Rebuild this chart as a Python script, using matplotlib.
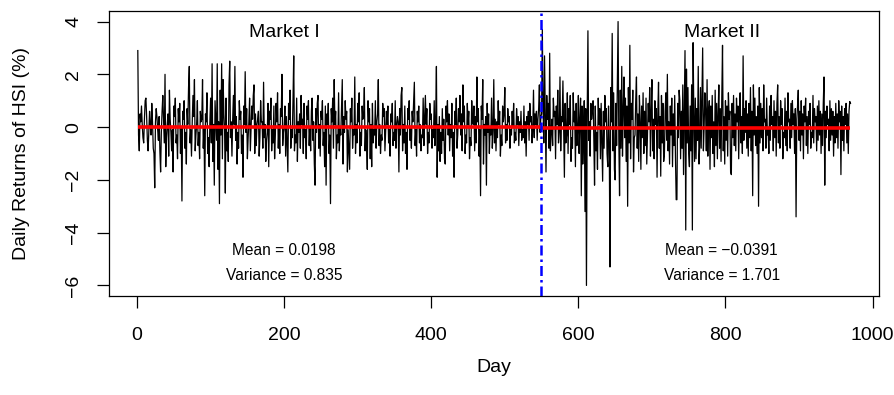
import matplotlib
matplotlib.use("Agg")
import matplotlib.pyplot as plt
import numpy as np

plt.rcParams['font.family'] = ['Liberation Sans', 'DejaVu Sans']

# daily returns of HSI (%), estimated from the chart
# Market I: days 1-549
market1_returns = [
    2.9, -0.3, -0.9, 0.5, 0.2, 0.8, 0.1, -0.4, -0.6, 0.3, 1.0, 1.1, 0.4, -0.5, -0.9, -0.2, 0.6, 0.1, -0.3, 0.9,
    0.2, -0.8, -1.0, -2.3, 0.2, 0.7, 0.4, -0.1, -0.5, 0.4, -0.9, -1.7, -0.2, 0.6, 1.2, 0.3, -0.6, 2.0, -1.5, -0.4,
    0.1, 0.5, -1.1, 1.4, 0.3, -0.2, -0.9, -0.1, -1.7, 0.8, 0.4, 1.1, -0.6, -0.3, -1.2, 0.7, 0.2, 0.9, -1.0, 0.0,
    -2.8, 0.6, 0.3, 1.0, -0.8, -0.2, -1.4, 0.7, 0.1, 1.5, 2.3, -0.6, -0.1, -1.1, 0.2, 1.2, 0.4, 1.8, -0.9, -0.3,
    0.1, 1.0, -0.7, -0.2, -1.2, 0.6, 0.2, 0.3, 1.8, -0.8, 0.0, -2.6, 0.5, 0.2, 1.3, -1.0, -0.4, -1.5, 0.2, 1.1,
    -0.6, 2.4, -1.3, 0.1, -2.2, 1.0, 0.3, -0.5, 2.4, -1.6, 0.2, -2.9, 1.4, -0.3, 2.4, -1.2, 1.8, 0.5, -0.1, -2.5,
    1.1, -0.9, -0.2, -1.3, 1.6, 2.5, -0.4, 0.2, -1.1, 0.3, 1.2, 0.1, 2.3, -0.5, 0.4, -1.4, -0.2, -0.8, 1.0, 0.3,
    0.6, -1.0, -0.3, -1.9, 0.8, 0.1, 2.1, -0.2, 0.7, -1.2, -0.4, 0.2, 1.1, -0.9, -0.1, 0.8, 0.3, 1.2, 1.6, -1.0,
    0.5, -0.7, 0.1, 0.3, 0.6, -1.1, -0.4, 1.0, 0.2, 0.2, -0.8, 1.7, -0.4, 0.1, -1.3, -0.5, -0.2, 0.9, -1.5, 0.6,
    0.3, 1.1, -0.9, -0.1, -0.6, 0.8, -1.2, -0.3, 0.9, 0.2, 1.3, -0.8, 0.1, -1.0, 0.7, 0.4, 2.0, -0.7, -0.2, 0.0,
    0.8, -1.1, 0.4, -0.6, -1.7, 0.9, 0.3, 1.4, -0.8, -0.1, -0.4, 1.0, 2.7, -0.9, -0.3, -0.6, 1.1, -1.3, 0.2, -0.2,
    0.5, -0.8, 1.2, 0.1, 0.3, -1.0, 0.9, -0.4, -0.1, -1.2, 0.8, 0.3, 1.0, -0.7, 0.0, -0.9, 0.6, 1.1, -0.5, 0.2,
    -1.4, -2.2, 0.7, -0.2, 0.9, 1.2, -0.8, 0.1, -1.1, 0.6, 0.3, 1.0, -0.7, -0.2, -1.5, 0.8, -2.2, 0.5, 0.1, 0.9,
    -1.0, -0.3, -2.9, 0.7, 0.2, 1.1, -0.8, 1.8, 0.1, 0.6, -1.2, -0.3, -0.6, 1.3, -0.9, 0.0, -0.3, 0.8, 1.8, -1.4,
    0.4, -0.2, 1.0, 0.3, 0.6, -1.7, -0.1, -0.9, -1.6, 0.7, 0.2, 1.1, -0.8, -0.1, -0.3, 1.9, -1.0, 0.1, -0.6, 0.9,
    0.2, 1.3, -1.1, -0.2, -0.7, 0.8, 0.3, 0.4, 1.5, -0.9, -0.1, -0.5, -1.6, 1.0, 0.2, 0.7, -1.2, 0.1, -1.5, 0.9,
    -0.6, -0.1, -0.3, 1.0, -0.8, 0.2, 0.5, 1.8, -0.7, 0.1, -1.0, -0.3, -0.5, 0.9, 0.4, 0.7, -0.9, -0.2, 0.6, 0.1,
    0.8, -0.6, -0.1, -1.1, 0.5, 0.2, 0.9, -0.7, -0.2, -0.5, 1.0, -0.8, 0.1, 0.4, 0.2, -1.7, 0.7, -0.3, 1.2, 1.5,
    -0.9, 0.1, -0.6, 0.8, -1.0, -0.2, -1.6, 0.7, 0.3, 1.0, -0.5, 0.0, -0.8, 0.6, 0.2, 0.9, 1.7, -0.7, -0.1, -1.1,
    0.6, 0.2, 0.8, -0.6, 0.1, -0.9, -0.3, -0.4, 1.1, -0.7, 0.4, 1.2, 0.1, 0.7, -1.0, -0.2, -0.6, 0.9, 0.3, 0.5,
    -0.8, -0.1, -0.4, 1.0, -0.7, 0.3, 2.3, -1.9, 0.1, -0.9, 0.4, -1.3, -0.2, -1.0, 0.7, -0.5, 0.3, -1.2, -1.4, 0.8,
    0.2, 1.0, -0.3, 0.5, -0.9, 0.1, -0.4, 0.9, -1.1, -0.2, -1.9, 0.6, 0.1, 1.1, -0.8, -0.3, 0.7, 0.2, 1.2, -0.3,
    0.5, -0.9, 1.6, 0.2, 0.8, -1.0, -0.3, -0.6, 0.9, 0.1, 0.6, -1.2, -0.4, -0.7, 1.0, 0.3, 0.1, 0.8, -0.9, 0.4,
    -0.6, 1.9, 0.2, 0.7, -1.1, -0.1, -2.6, 0.8, 0.3, 1.8, -1.4, 0.1, -0.3, 0.4, -2.2, 0.9, -0.2, 0.5, -1.0, 0.0,
    -0.3, 1.1, -0.8, -0.1, 1.8, -0.6, 0.3, -0.9, 0.2, -0.4, 1.0, 0.1, 0.6, -1.1, -0.3, -0.7, 0.8, 0.2, 0.5, 1.5,
    -0.6, 0.1, -0.5, 0.7, 0.2, 0.4, -0.8, -0.1, -0.3, 0.6, 0.0, 0.9, -0.6, -0.2, -0.5, 0.7, 0.1, 0.4, -0.7, 0.2,
    -0.2, 0.6, -0.5, -0.1, -0.4, 0.8, -0.6, 0.2, -1.1, 0.4, 0.1, 0.6, -0.5, 0.9, 0.2, 0.4, -0.6, -0.1, 1.4, -0.4,
    0.5, 0.1, 0.6, -0.5, 0.3, 0.7, 1.6, -0.2, 0.4,
]

# Market II: days 550-970
market2_returns = [
    0.5, 3.7, 0.8, -0.6, 2.7, 0.4, -1.7, 1.2, 0.3, 0.9, -0.8, 2.8, -0.9, -0.2, 0.3, -0.7, 1.1, 0.4, 0.6, -1.2,
    0.8, 0.1, 1.4, -0.6, -0.2, 1.9, -0.9, 0.4, 0.2, 1.75, -0.2, -1.9, 0.9, -0.6, -0.3, 1.3, -1.0, 0.7, 0.1, 1.2,
    -1.3, -0.4, -0.8, 1.3, 0.2, 0.6, -1.5, 0.9, -0.7, -0.1, 1.2, -1.0, 0.3, 1.1, -2.6, 0.8, -1.4, -0.3, 1.0, -3.2,
    0.7, -6.0, 0.4, 3.65, -0.5, 0.2, -1.1, 0.9, 0.3, 0.6, 1.0, -0.4, -2.2, 0.8, -0.9, -0.2, -1.6, 1.1, 0.1, 0.7,
    -1.2, 0.9, -0.5, -2.05, 0.6, -0.8, 1.2, 0.2, 0.7, -1.0, -1.5, 0.8, -0.6, -5.3, 1.5, 0.2, 3.55, -0.9, 1.3, -1.6,
    -2.0, 0.9, -0.7, 1.6, 4.0, -0.5, -2.6, 1.4, -0.8, 2.3, -1.1, 0.6, 1.9, -0.4, 1.1, -1.3, 0.8, -3.0, 1.5, -0.6,
    3.1, -1.2, 0.9, 0.3, 1.4, -1.7, -0.4, -0.3, 1.0, 1.9, -0.8, 0.5, -1.3, 1.2, 0.2, -1.6, 0.8, -0.4, 1.3, -1.0,
    0.6, -0.7, 1.1, -1.4, -0.3, 0.9, 0.2, 1.5, -1.1, 0.6, 1.8, -0.9, 0.3, -1.2, 1.0, 0.1, 0.7, -1.9, 0.5, 1.7,
    -0.8, 0.4, -1.86, 1.2, -0.6, 0.9, -1.3, -1.0, 0.6, 1.3, -0.5, 2.0, -0.9, 0.2, -1.4, 0.8, -0.3, 1.1, -1.5, 0.5,
    -0.7, 1.2, -1.1, -2.75, -2.75, 0.9, -0.4, 1.4, 1.0, -1.2, 0.6, -0.8, 1.6, -1.8, 0.7, 2.9, -3.9, 2.2, -0.6, 1.5,
    -1.0, -1.5, 0.8, -0.9, 1.6, -3.9, 3.2, 0.4, -1.3, 1.1, -1.2, 0.7, -0.5, 2.3, -1.4, -0.7, 1.5, -0.8, 1.2, 3.0,
    -0.9, 0.0, 1.3, 0.6, -0.9, 1.8, -1.1, 0.5, 1.0, -1.6, 0.8, -0.4, 1.2, -1.0, 0.2, -1.5, 1.4, -0.7, 0.9, -1.2,
    0.5, 1.6, -0.8, 0.7, -1.3, 1.1, 3.1, -0.9, 0.4, -1.4, 1.0, -0.5, 0.8, -1.1, 1.3, 0.3, 0.6, -1.7, -1.8, 0.9,
    -0.4, 1.2, -0.7, 0.5, -0.9, 1.1, 0.2, 0.8, -1.2, 0.6, 1.3, -0.6, 0.4, -1.0, 2.7, -0.5, 0.7, -0.2, 1.0, -0.8,
    0.5, -1.1, 0.9, -0.4, 1.5, -0.9, 0.6, -2.6, 1.6, -0.3, 1.1, -0.7, 0.4, -1.0, 0.8, -3.0, 1.5, -0.6, 0.9, -0.4,
    0.7, -0.9, 1.6, 0.2, 0.3, -0.8, 1.1, -0.3, -0.1, -1.0, 0.8, -0.5, 1.2, 0.1, 0.4, -0.9, 1.0, -0.4, 0.6, -1.1,
    0.9, 1.6, -0.6, 0.4, -0.8, 1.0, 0.1, 0.7, -1.2, -0.2, -0.4, 1.1, -0.7, 0.6, -0.9, 1.3, 0.2, 0.3, -0.8, 0.9,
    -0.4, 1.0, 0.1, 0.5, -1.0, 0.7, -3.4, 0.3, 0.8, 1.4, -0.5, 0.6, -0.9, 1.0, -0.3, 0.5, -1.2, 0.8, 0.2, 1.1,
    -0.7, 0.4, -1.0, 0.6, 0.1, 0.9, -0.8, -0.2, -0.4, 1.2, -0.6, 0.7, 0.2, 0.4, -0.9, 0.8, -0.5, 1.0, -0.3, 0.6,
    -1.0, 0.5, -0.7, 0.9, 1.9, -2.2, 0.6, -0.4, 0.8, 0.1, 0.3, -0.9, 1.0, -0.5, 0.7, -0.3, 0.6, -1.1, 0.4, -0.6,
    0.9, -0.4, 0.5, -0.8, 1.0, 0.2, 0.6, -1.8, 0.8, -0.5, 0.4, -0.9, 0.7, 0.1, 0.9, -0.6, 0.5, -1.0, 0.6, 0.97,
    0.9,
]

market_labels = ["Market I", "Market II"]
market_means = [0.0198, -0.0391]
market_variances = [0.835, 1.701]
label_days = [200, 795]

x_ticks = [0, 200, 400, 600, 800, 1000]
y_ticks = [-6, -4, -2, 0, 2, 4]

returns = np.array(market1_returns + market2_returns)
days = np.arange(1, len(returns) + 1)
n1 = len(market1_returns)
n = len(returns)

fig = plt.figure(figsize=(8.95, 3.95), dpi=100)
ax = fig.add_axes([109.3 / 895, 1 - 296 / 395, 769.7 / 895, 285 / 395])

ax.plot(days, returns, color='black', lw=0.9)

# mean of each market
ax.plot([1, n1], [market_means[0]] * 2, color='red', lw=2.6, solid_capstyle='butt')
ax.plot([n1 + 1, n], [market_means[1]] * 2, color='red', lw=2.6, solid_capstyle='butt')

# change point
ax.axvline(n1 + 0.5, color='blue', lw=1.8, linestyle=(0, (4, 1.6, 1, 1.6)))

# R style limits (4% extension)
xpad = 0.04 * (n - 1)
ax.set_xlim(1 - xpad, n + xpad)
ypad = 0.04 * (returns.max() - returns.min())
ax.set_ylim(returns.min() - ypad, returns.max() + ypad)

for i in range(2):
    ax.text(label_days[i], 3.42, market_labels[i], ha='center', va='baseline', fontsize=14)
    mean_txt = f"{market_means[i]:.4f}".replace('-', '\u2212')
    ax.text(label_days[i], -4.85, f"Mean = {mean_txt}", ha='center', va='baseline', fontsize=11.2)
    ax.text(label_days[i], -5.80, f"Variance = {market_variances[i]:.3f}", ha='center', va='baseline',
            fontsize=11.2)

ax.set_xticks(x_ticks)
ax.set_yticks(y_ticks)
ax.tick_params(axis='both', direction='out', length=8.5, width=0.9, labelsize=14)
ax.tick_params(axis='x', pad=14)
ax.tick_params(axis='y', pad=11, labelrotation=90)
for lbl in ax.get_yticklabels():
    lbl.set_va('center')

for sp in ax.spines.values():
    sp.set_linewidth(0.9)

fig.text(494 / 895, 1 - 368 / 395, "Day", ha='center', va='center', fontsize=14)
fig.text(22 / 895, 1 - 154 / 395, "Daily Returns of HSI (%)", ha='center', va='center',
         rotation=90, fontsize=14)

fig.savefig('out.png', dpi=100)
